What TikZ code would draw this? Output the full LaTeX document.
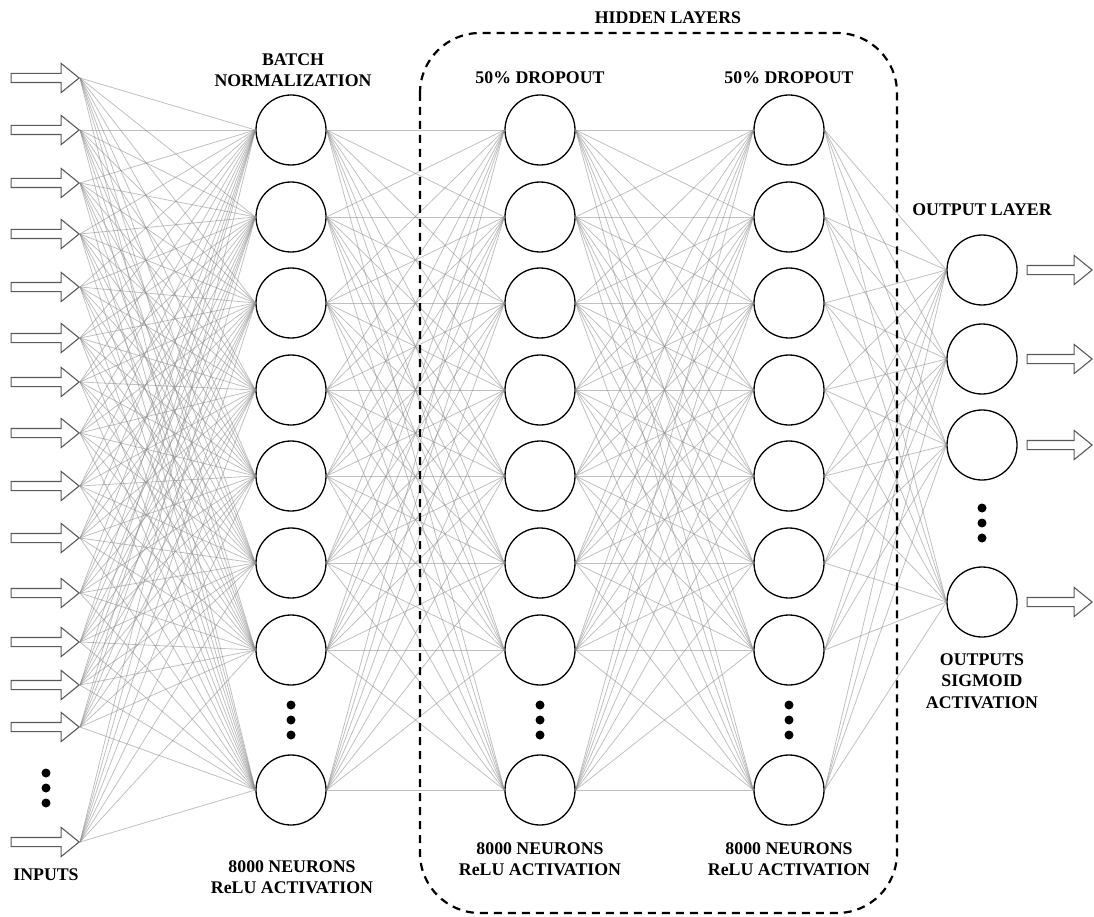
\documentclass[tikz,border=0pt]{standalone}
\usepackage{fontspec}
\setmainfont{Liberation Serif}
\usetikzlibrary{arrows.meta,shapes.arrows}

\begin{document}
\begin{tikzpicture}[x=1pt,y=-1pt,
	neuron/.style={circle,draw,line width=1.3pt,minimum size=70pt,inner sep=0pt},
	flowarrow/.style={single arrow,draw=black!65,line width=1.1pt,minimum height=68pt,
	                  inner sep=4pt,single arrow head extend=10pt,single arrow tip angle=78},
	caption/.style={font=\fontsize{17.8}{21.5}\selectfont\bfseries,align=center},
	link/.style={draw=black!45,line width=0.8pt,opacity=0.55}]
	\useasboundingbox (0,0) rectangle (1094,917);

	% inputs
	\foreach \i/\y in {1/78,2/130,3/183,4/234,5/287,6/338,7/382,8/433,9/486,10/538,
	                   11/593,12/642,13/685,14/727,15/842}
	    \node[flowarrow,anchor=tip] (in\i) at (80,\y) {};

	% batch normalization and hidden layers
	\foreach \i/\y in {1/130,2/217,3/303,4/390,5/476,6/563,7/650,8/790} {
	    \node[neuron] (bn\i) at (291,\y) {};
	    \node[neuron] (ha\i) at (540,\y) {};
	    \node[neuron] (hb\i) at (789,\y) {};
	}

	% output layer
	\foreach \i/\y in {1/270,2/359,3/445,4/602} {
	    \node[neuron] (out\i) at (982,\y) {};
	    \node[flowarrow,minimum height=65pt,anchor=tip] (res\i) at (1093,\y) {};
	}

	% connections
	\foreach \i in {1,...,15}
	    \foreach \j in {1,...,8}
	        \draw[link] (in\i.tip) -- (bn\j.west);
	\foreach \i in {1,...,8}
	    \foreach \j in {1,...,8} {
	        \draw[link] (bn\i.east) -- (ha\j.west);
	        \draw[link] (ha\i.east) -- (hb\j.west);
	    }
	\foreach \i in {1,...,8}
	    \foreach \j in {1,...,4}
	        \draw[link] (hb\i.east) -- (out\j.west);

	% dots
	\foreach \d in {0,15,30} {
	    \fill (46,773+\d) circle (4.5pt);
	    \fill (291,705+\d) circle (4.5pt);
	    \fill (540,705+\d) circle (4.5pt);
	    \fill (789,705+\d) circle (4.5pt);
	    \fill (982,508+\d) circle (4.5pt);
	}

	% hidden layers box
	\draw[line width=2.2pt,dash pattern=on 8pt off 6pt,rounded corners=60pt]
	    (420,33) rectangle (897,913);

	% labels
	\node[caption] (hidlbl) at (668,18) {HIDDEN LAYERS};
	\node[caption] (bnlbl) at (293,70) {BATCH\\NORMALIZATION};
	\node[caption] (halbl) at (540,78) {50\% DROPOUT};
	\node[caption] (hblbl) at (789,78) {50\% DROPOUT};
	\node[caption] (outlbl) at (982,210) {OUTPUT LAYER};
	\node[caption] (outact) at (982,681) {OUTPUTS\\SIGMOID\\ACTIVATION};
	\node[caption] (inlbl) at (46,875) {INPUTS};
	\node[caption] (bnact) at (292,877) {8000 NEURONS\\ReLU ACTIVATION};
	\node[caption] (haact) at (540,859) {8000 NEURONS\\ReLU ACTIVATION};
	\node[caption] (hbact) at (789,859) {8000 NEURONS\\ReLU ACTIVATION};
\end{tikzpicture}
\end{document}
